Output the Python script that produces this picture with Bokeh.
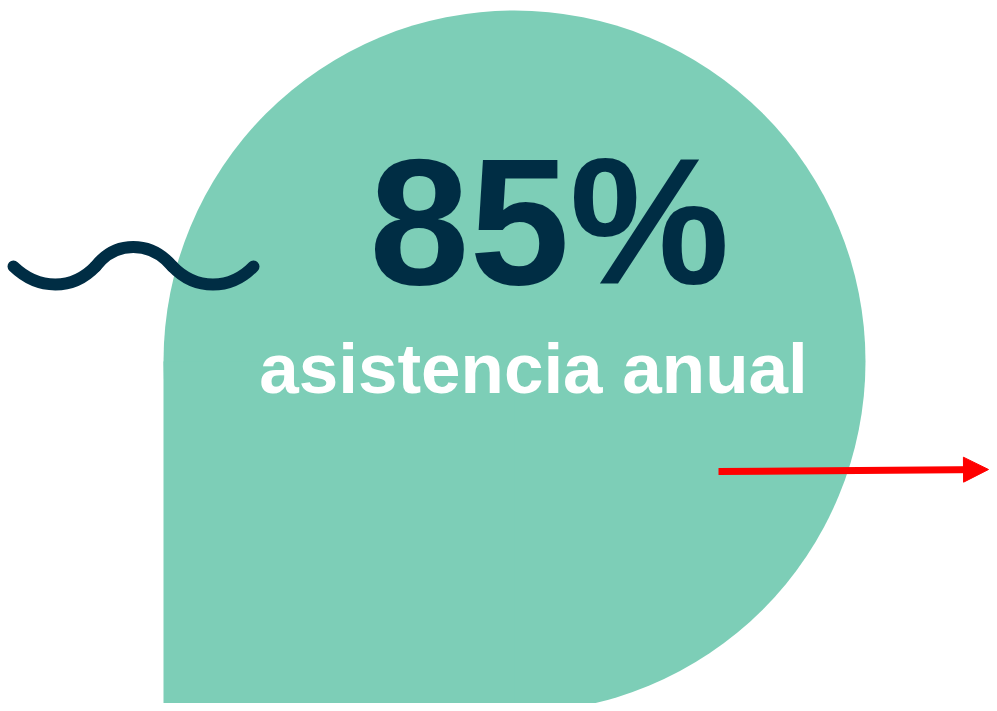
from bokeh.plotting import figure
from bokeh.models import Range1d, Arrow, NormalHead, ColumnDataSource
from bokeh.core.properties import value
from bokeh.embed import file_html
from bokeh.resources import INLINE

# --- data ---
pct_values = [85]
labels = ["asistencia anual"]
main_texts = [f"{v}%" for v in pct_values]

TEAL = "#7dceb7"
NAVY = "#002d44"

W, H = 989, 703
p = figure(width=W, height=H, output_backend="svg", toolbar_location=None,
           x_range=Range1d(0, W), y_range=Range1d(H, 0),
           min_border=0, background_fill_color="white",
           border_fill_color="white", outline_line_color=None)
p.axis.visible = False
p.grid.visible = False

# teardrop shape: circle + square bottom-left quadrant
cx, cy, r = 514, 361, 351
p.circle(x=[cx], y=[cy], radius=r, fill_color=TEAL, line_color=None)
p.quad(left=[cx - r], right=[cx], top=[cy], bottom=[cy + r + 5],
       fill_color=TEAL, line_color=None)

# decorative wave
p.bezier(x0=[13, 95, 172], y0=[266, 266, 266],
         x1=[95, 172, 253], y1=[266, 266, 266],
         cx0=[38, 115, 195], cy0=[290, 240, 290],
         cx1=[72, 150, 230], cy1=[290, 240, 290],
         line_color=NAVY, line_width=12, line_cap="round")

# texts
src = ColumnDataSource(dict(x=[549], y=[221], t=main_texts))
p.text(x="x", y="y", text="t", source=src, text_color=NAVY,
       text_font=value("Liberation Sans"), text_font_style="bold",
       text_font_size="180px", text_align="center", text_baseline="alphabetic")

src2 = ColumnDataSource(dict(x=[533], y=[368], t=labels))
p.text(x="x", y="y", text="t", source=src2, text_color="white",
       text_font=value("Liberation Sans"), text_font_style="bold",
       text_font_size="71px", text_align="center", text_baseline="alphabetic")

# red arrow
p.add_layout(Arrow(end=NormalHead(size=25, fill_color="red", line_color="red"),
                   x_start=718, y_start=471, x_end=988, y_end=469,
                   line_width=7, line_color="red"))

open("out.html", "w").write(file_html(p, INLINE))
